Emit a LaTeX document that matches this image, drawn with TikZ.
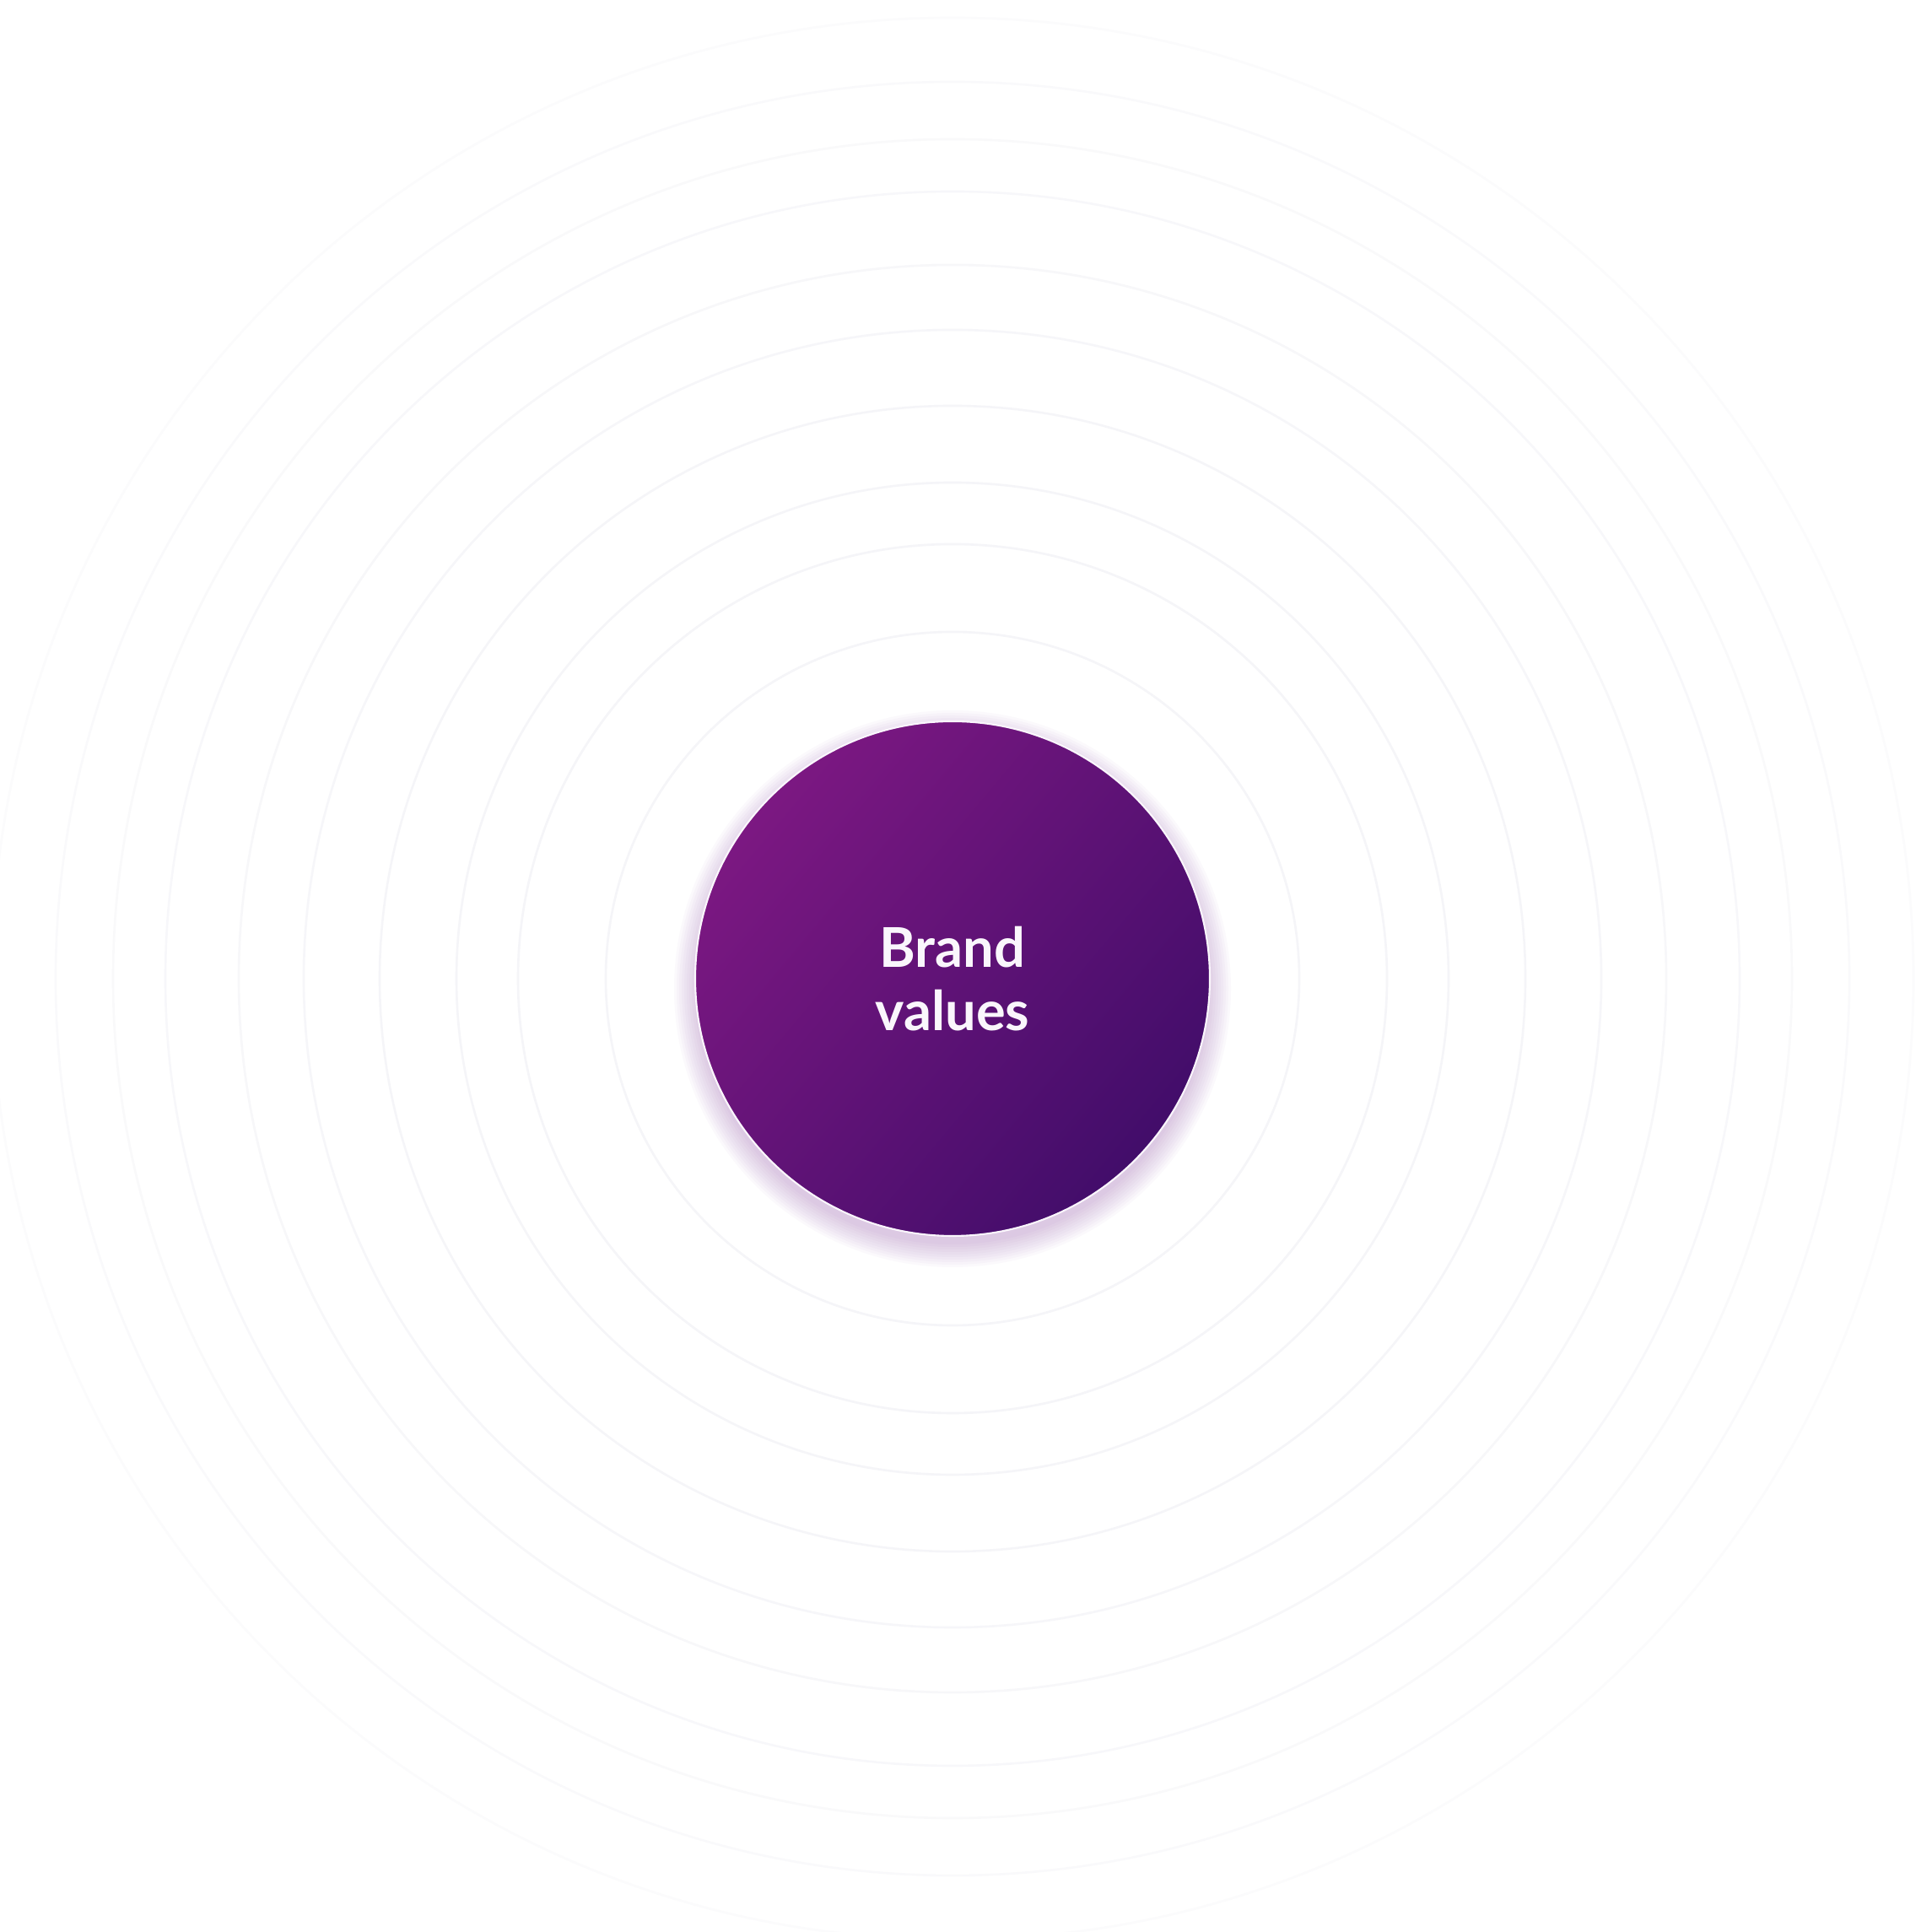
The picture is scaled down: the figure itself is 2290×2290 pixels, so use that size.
\documentclass[tikz,border=0pt]{standalone}
\usepackage{fontspec}
\setmainfont{Lato}
\usepackage{tikz}
\usetikzlibrary{positioning}
\definecolor{brandTop}{RGB}{124,24,130}
\definecolor{brandMid}{RGB}{76,15,110}
\definecolor{brandBottom}{RGB}{66,13,106}
\definecolor{glowPurple}{RGB}{150,90,175}
\definecolor{ringGray}{RGB}{245,245,248}
\definecolor{labelWhite}{RGB}{250,246,252}

\begin{document}
\begin{tikzpicture}[x=0.1mm, y=0.1mm,
  ringline/.style={draw=ringGray, line width=0.75pt},
  brandcircle/.style={circle, minimum size=61mm, inner sep=0pt,
    left color=brandTop, middle color=brandMid, right color=brandBottom, shading angle=50,
    draw=labelWhite, line width=0.6pt,
    text=labelWhite, align=center,
    font=\fontsize{18.5}{21.5}\selectfont\bfseries}]
  % canvas 2290 x 2290 px, 1 px = 0.1 mm
  \useasboundingbox (0,0) rectangle (2290,2290);
  \clip (0,0) rectangle (2290,2290);
  \fill[white] (0,0) rectangle (2290,2290);
  \coordinate (ctr) at (1129,1130);
  % faint rings, fading outwards
  \foreach \r/\o in {411/1, 515/1, 588/.95, 679/.9, 769/.85, 846/.8, 933/.7, 995/.6, 1063/.5, 1139/.4}
    \draw[ringline, opacity=\o] (ctr) circle (\r);
  % soft glow round the core
  \foreach \i in {1,...,10}
    \fill[glowPurple, opacity=0.035] ([yshift=-1.2mm]ctr) circle ({300+3*\i});
  % core
  \node[brandcircle] (brand) at (ctr) {Brand\\values};
\end{tikzpicture}
\end{document}
